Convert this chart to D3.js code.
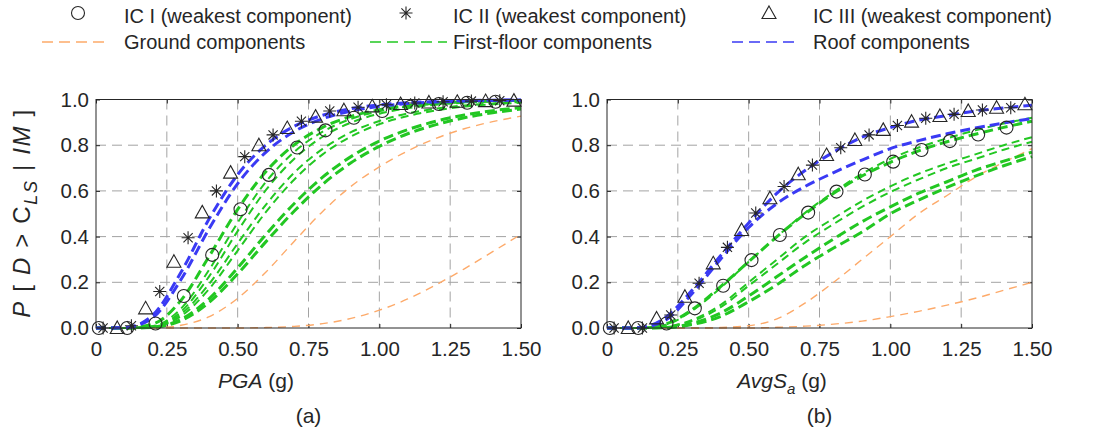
<!DOCTYPE html>
<html>
<head>
<meta charset="utf-8">
<script src="https://cdn.jsdelivr.net/npm/d3@7"></script>
<style>
  body { margin: 0; background: #fff; }
  svg { display: block; font-family: 'Liberation Sans', Arial, sans-serif; }
</style>
</head>
<body>
<svg class="chart" width="1093" height="446"></svg>
<script>
// shared x grid of the fragility curves (g)
const xGrid = [0, 0.1, 0.2, 0.3, 0.4, 0.5, 0.6, 0.7, 0.8, 0.9, 1.0, 1.1, 1.2, 1.3, 1.4, 1.5]
const xTicks = [0, 0.25, 0.5, 0.75, 1.0, 1.25, 1.5]
const xTickLabels = ['0', '0.25', '0.50', '0.75', '1.00', '1.25', '1.50']
const yTicks = [0, 0.2, 0.4, 0.6, 0.8, 1.0]
const yTickLabels = ['0.0', '0.2', '0.4', '0.6', '0.8', '1.0']

// marker x positions
const icIx = [0.01, 0.11, 0.21, 0.31, 0.41, 0.51, 0.61, 0.71, 0.81, 0.91, 1.01, 1.11, 1.21, 1.31, 1.41]
const icIIx = [0.025, 0.125, 0.225, 0.325, 0.425, 0.525, 0.625, 0.725, 0.825, 0.925, 1.025, 1.125, 1.225, 1.325, 1.425]
const icIIIx = [0.075, 0.175, 0.275, 0.375, 0.475, 0.575, 0.675, 0.775, 0.875, 0.975, 1.075, 1.175, 1.275, 1.375, 1.475]

// ---- panel (a) PGA ----
const icIa = [0, 0, 0.02, 0.14, 0.32, 0.52, 0.67, 0.79, 0.865, 0.92, 0.95, 0.968, 0.98, 0.986, 0.99]
const icIIa = [0, 0.01, 0.16, 0.395, 0.6, 0.75, 0.845, 0.905, 0.95, 0.966, 0.977, 0.985, 0.99, 0.993, 0.995]
const icIIIa = [0, 0.086, 0.29, 0.506, 0.68, 0.8, 0.875, 0.925, 0.953, 0.97, 0.98, 0.987, 0.99, 0.993, 0.995]

const groundA1 = [0, 0, 0.001, 0.012, 0.05, 0.13, 0.245, 0.38, 0.51, 0.62, 0.705, 0.775, 0.83, 0.872, 0.903, 0.927]
const groundA2 = [0, 0, 0, 0, 0, 0, 0.002, 0.007, 0.019, 0.042, 0.078, 0.127, 0.189, 0.259, 0.334, 0.41]

const floorA1 = [0, 0, 0.017, 0.121, 0.315, 0.519, 0.685, 0.802, 0.878, 0.926, 0.955, 0.973, 0.983, 0.99, 0.994, 0.996]
const floorA2 = [0, 0, 0.008, 0.085, 0.256, 0.461, 0.64, 0.771, 0.859, 0.915, 0.949, 0.969, 0.982, 0.989, 0.993, 0.996]
const floorA3 = [0, 0, 0.007, 0.071, 0.227, 0.424, 0.604, 0.741, 0.837, 0.899, 0.938, 0.962, 0.977, 0.986, 0.991, 0.995]
const floorA4 = [0, 0, 0.006, 0.061, 0.194, 0.37, 0.54, 0.68, 0.784, 0.857, 0.906, 0.939, 0.96, 0.974, 0.983, 0.989]
const floorA5 = [0, 0, 0.005, 0.052, 0.172, 0.339, 0.508, 0.65, 0.76, 0.838, 0.892, 0.928, 0.952, 0.969, 0.979, 0.986]
const floorA6 = [0, 0, 0.004, 0.038, 0.129, 0.263, 0.41, 0.545, 0.66, 0.75, 0.818, 0.868, 0.905, 0.932, 0.951, 0.965]
const floorA7 = [0, 0, 0.003, 0.032, 0.113, 0.237, 0.378, 0.512, 0.629, 0.723, 0.795, 0.85, 0.89, 0.92, 0.942, 0.958]
const floorAWidth = [3, 2, 2, 2, 2, 3, 3]

const roofA1 = [0, 0.001, 0.056, 0.244, 0.479, 0.671, 0.801, 0.883, 0.931, 0.96, 0.976, 0.986, 0.991, 0.995, 0.997, 0.998]
const roofA2 = [0, 0.001, 0.045, 0.212, 0.436, 0.632, 0.77, 0.86, 0.916, 0.95, 0.97, 0.982, 0.989, 0.993, 0.996, 0.997]

// ---- panel (b) AvgSa ----
const icIb = [0, 0, 0.02, 0.086, 0.185, 0.297, 0.407, 0.505, 0.597, 0.672, 0.728, 0.779, 0.818, 0.847, 0.877]
const icIIb = [0, 0, 0.057, 0.196, 0.353, 0.503, 0.619, 0.713, 0.789, 0.845, 0.886, 0.918, 0.935, 0.954, 0.964]
const icIIIb = [0, 0.042, 0.137, 0.283, 0.429, 0.568, 0.673, 0.757, 0.823, 0.867, 0.903, 0.928, 0.95, 0.964, 0.979]

const groundB1 = [0, 0, 0, 0, 0.002, 0.01, 0.04, 0.11, 0.2, 0.3, 0.4, 0.5, 0.58, 0.66, 0.725, 0.785]
const groundB2 = [0, 0, 0, 0, 0, 0, 0.003, 0.008, 0.017, 0.03, 0.05, 0.073, 0.1, 0.13, 0.165, 0.2]

const floorB1 = [0, 0, 0.015, 0.08, 0.18, 0.29, 0.4, 0.5, 0.59, 0.665, 0.725, 0.775, 0.815, 0.848, 0.878, 0.905]
const floorB2 = [0, 0, 0.012, 0.075, 0.175, 0.29, 0.4, 0.505, 0.595, 0.675, 0.74, 0.79, 0.83, 0.865, 0.895, 0.92]
const floorB3 = [0, 0, 0.005, 0.035, 0.1, 0.2, 0.3, 0.4, 0.48, 0.555, 0.62, 0.675, 0.72, 0.76, 0.8, 0.835]
const floorB4 = [0, 0, 0.004, 0.03, 0.09, 0.185, 0.28, 0.375, 0.455, 0.53, 0.595, 0.65, 0.7, 0.74, 0.78, 0.815]
const floorB5 = [0, 0, 0.002, 0.02, 0.065, 0.14, 0.225, 0.31, 0.39, 0.465, 0.53, 0.59, 0.64, 0.69, 0.73, 0.77]
const floorB6 = [0, 0, 0.001, 0.015, 0.05, 0.115, 0.19, 0.275, 0.35, 0.42, 0.5, 0.56, 0.615, 0.665, 0.71, 0.75]
const floorBWidth = [3, 2, 2, 2, 3, 3]

const roofB1 = [0, 0, 0.04, 0.165, 0.315, 0.46, 0.59, 0.69, 0.77, 0.835, 0.877, 0.91, 0.93, 0.95, 0.963, 0.975]
const roofB2 = [0, 0, 0.03, 0.15, 0.3, 0.44, 0.545, 0.62, 0.68, 0.735, 0.785, 0.82, 0.85, 0.875, 0.897, 0.917]

const orange = '#fdaa6a'
const green = '#22c722'
const blue = '#3a3af4'
const ink = '#262626'

const svg = d3.select('.chart')
const plotTop = 99.5
const innerWidth = 425
const innerHeight = 228.5

const xScale = d3.scaleLinear().domain([0, 1.5]).range([0, innerWidth])
const yScale = d3.scaleLinear().domain([0, 1]).range([innerHeight, 0])

const line = d3.line()
  .x(d => xScale(d[0]))
  .y(d => yScale(d[1]))
  .curve(d3.curveMonotoneX)

const pts = ys => xGrid.map((x, i) => [x, ys[i]])

const starPath = r => {
  const s = r * Math.SQRT1_2
  return `M${-r},0L${r},0M0,${-r}L0,${r}M${-s},${-s}L${s},${s}M${-s},${s}L${s},${-s}`
}
const triPath = 'M0,-7L7,5.5L-7,5.5Z'

function drawMarkers(g, xs, ys, kind) {
  const sel = g.append('g').selectAll('path')
    .data(xs.map((x, i) => [x, ys[i]]))
    .enter()
  if (kind === 'circle') {
    sel.append('circle')
      .attr('cx', d => xScale(d[0])).attr('cy', d => yScale(d[1])).attr('r', 6.5)
      .attr('fill', 'none').attr('stroke', ink).attr('stroke-width', 1.1)
  } else {
    sel.append('path')
      .attr('transform', d => `translate(${xScale(d[0])},${yScale(d[1])})`)
      .attr('d', kind === 'star' ? starPath(6.5) : triPath)
      .attr('fill', 'none').attr('stroke', ink).attr('stroke-width', 1.1)
  }
}

function drawPanel(p) {
  const g = svg.append('g').attr('transform', `translate(${p.left},${plotTop})`)

  // dashed grid
  g.append('g').selectAll('line').data(xTicks.slice(1, -1)).enter().append('line')
    .attr('x1', d => xScale(d)).attr('x2', d => xScale(d))
    .attr('y1', 0).attr('y2', innerHeight)
    .attr('stroke', '#a3a3a3').attr('stroke-dasharray', '10,6')
  g.append('g').selectAll('line').data(yTicks.slice(1, -1)).enter().append('line')
    .attr('y1', d => yScale(d)).attr('y2', d => yScale(d))
    .attr('x1', 0).attr('x2', innerWidth)
    .attr('stroke', '#a3a3a3').attr('stroke-dasharray', '10,6')

  // axes
  g.append('g').attr('transform', `translate(0,${innerHeight})`)
    .call(d3.axisBottom(xScale).tickValues(xTicks).tickFormat((d, i) => xTickLabels[i])
      .tickSizeInner(-4).tickSizeOuter(0).tickPadding(13))
  g.append('g')
    .call(d3.axisLeft(yScale).tickValues(yTicks).tickFormat((d, i) => yTickLabels[i])
      .tickSizeInner(-4).tickSizeOuter(0).tickPadding(7))
  // mirrored inward ticks on the top and right sides (no labels)
  g.append('g').attr('class', 'mirror')
    .call(d3.axisTop(xScale).tickValues(xTicks).tickSizeInner(-4).tickSizeOuter(0))
  g.append('g').attr('class', 'mirror').attr('transform', `translate(${innerWidth},0)`)
    .call(d3.axisRight(yScale).tickValues(yTicks).tickSizeInner(-4).tickSizeOuter(0))
  g.selectAll('.mirror text').remove()
  g.selectAll('.domain').remove()
  g.selectAll('.tick line').attr('stroke', ink)
  g.selectAll('.tick text').attr('fill', ink).style('font-size', '20.5px')
    .style('font-family', "'Liberation Sans', Arial, sans-serif")

  // curves
  p.ground.forEach(ys => {
    g.append('path').attr('d', line(pts(ys))).attr('fill', 'none')
      .attr('stroke', orange).attr('stroke-width', 1.4).attr('stroke-dasharray', '8,6')
  })
  p.floor.forEach((ys, i) => {
    g.append('path').attr('d', line(pts(ys))).attr('fill', 'none')
      .attr('stroke', green).attr('stroke-width', p.floorWidth[i])
      .attr('stroke-dasharray', p.floorWidth[i] > 2 ? '10,5' : '8,5')
  })
  p.roof.forEach(ys => {
    g.append('path').attr('d', line(pts(ys))).attr('fill', 'none')
      .attr('stroke', blue).attr('stroke-width', 3).attr('stroke-dasharray', '10,5')
  })

  // frame
  g.append('rect').attr('width', innerWidth).attr('height', innerHeight)
    .attr('fill', 'none').attr('stroke', ink).attr('stroke-width', 1)

  drawMarkers(g, icIx, p.icI, 'circle')
  drawMarkers(g, icIIx, p.icII, 'star')
  drawMarkers(g, icIIIx, p.icIII, 'tri')

  // x label
  const xl = svg.append('text').attr('x', p.left + p.xLabelDx).attr('y', 388)
    .attr('text-anchor', 'middle').attr('fill', ink).style('font-size', '21px')
  p.xLabel(xl)
  svg.append('text').attr('x', p.left + innerWidth / 2).attr('y', 423)
    .attr('text-anchor', 'middle').attr('fill', ink).style('font-size', '21px')
    .text(p.tag)
}

const panels = [
  {
    left: 96, icI: icIa, icII: icIIa, icIII: icIIIa,
    ground: [groundA1, groundA2],
    floor: [floorA7, floorA6, floorA5, floorA4, floorA3, floorA2, floorA1],
    floorWidth: floorAWidth.slice().reverse(),
    roof: [roofA2, roofA1],
    tag: '(a)', xLabelDx: 160,
    xLabel: t => {
      t.append('tspan').style('font-style', 'italic').text('PGA')
      t.append('tspan').text(' (g)')
    }
  },
  {
    left: 607, icI: icIb, icII: icIIb, icIII: icIIIb,
    ground: [groundB1, groundB2],
    floor: [floorB6, floorB5, floorB4, floorB3, floorB2, floorB1],
    floorWidth: floorBWidth.slice().reverse(),
    roof: [roofB2, roofB1],
    tag: '(b)', xLabelDx: 175,
    xLabel: t => {
      t.append('tspan').style('font-style', 'italic').text('AvgS')
      t.append('tspan').style('font-style', 'italic').style('font-size', '15px').attr('dy', 6).text('a')
      t.append('tspan').attr('dy', -6).text(' (g)')
    }
  }
]

panels.forEach(drawPanel)

// y label
const yLab = svg.append('text')
  .attr('transform', `translate(30,${plotTop + innerHeight / 2}) rotate(-90)`)
  .attr('text-anchor', 'middle').attr('fill', ink).style('font-size', '24px')
  .attr('textLength', 208).attr('lengthAdjust', 'spacing')
yLab.append('tspan').style('font-style', 'italic').text('P')
yLab.append('tspan').text(' [ ')
yLab.append('tspan').style('font-style', 'italic').text('D')
yLab.append('tspan').text(' > C')
yLab.append('tspan').style('font-style', 'italic').style('font-size', '18px').attr('dy', 7).text('LS')
yLab.append('tspan').attr('dy', -7).text(' | ')
yLab.append('tspan').style('font-style', 'italic').text('IM')
yLab.append('tspan').text(' ]')

// legend
const legendMarks = [
  { x: 78, tx: 124, kind: 'circle', label: 'IC I (weakest component)' },
  { x: 406, tx: 453, kind: 'star', label: 'IC II (weakest component)' },
  { x: 769, tx: 813, kind: 'tri', label: 'IC III (weakest component)' }
]
const legendLines = [
  { x1: 42, x2: 110, tx: 124, color: orange, label: 'Ground components' },
  { x1: 370, x2: 447, tx: 453, color: green, label: 'First-floor components' },
  { x1: 732, x2: 800, tx: 813, color: blue, label: 'Roof components' }
]
const lg = svg.append('g')
legendMarks.forEach(d => {
  if (d.kind === 'circle') {
    lg.append('circle').attr('cx', d.x).attr('cy', 13).attr('r', 6.5)
      .attr('fill', 'none').attr('stroke', ink).attr('stroke-width', 1.1)
  } else {
    lg.append('path').attr('transform', `translate(${d.x},13)`)
      .attr('d', d.kind === 'star' ? starPath(6.5) : triPath)
      .attr('fill', 'none').attr('stroke', ink).attr('stroke-width', 1.1)
  }
  lg.append('text').attr('x', d.tx).attr('y', 23).attr('fill', ink)
    .style('font-size', '20px').text(d.label)
})
legendLines.forEach(d => {
  lg.append('line').attr('x1', d.x1).attr('x2', d.x2).attr('y1', 42).attr('y2', 42)
    .attr('stroke', d.color).attr('stroke-width', 1.5).attr('stroke-dasharray', '11,6')
  lg.append('text').attr('x', d.tx).attr('y', 49).attr('fill', ink)
    .style('font-size', '20px').text(d.label)
})
</script>
</body>
</html>
